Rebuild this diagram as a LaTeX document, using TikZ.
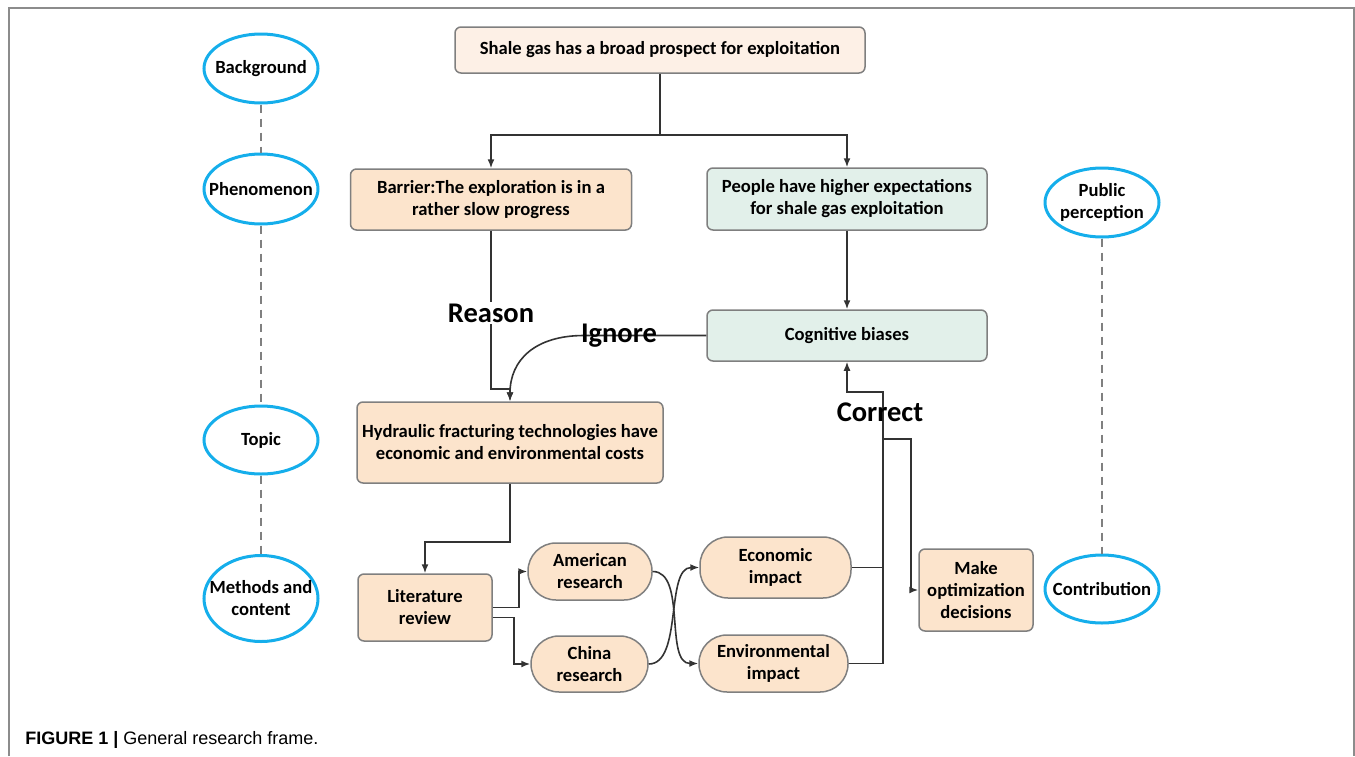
\documentclass[tikz,border=0pt]{standalone}
\usepackage{fontspec}
\setmainfont{Carlito}
\newfontfamily\capfont{Liberation Sans}
\usetikzlibrary{shapes.geometric}
\usetikzlibrary{arrows.meta}

\definecolor{peach}{HTML}{FCE4CC}
\definecolor{lightpeach}{HTML}{FDF0E6}
\definecolor{mint}{HTML}{E2F0EA}
\definecolor{skyline}{HTML}{15AEEB}
\definecolor{boxline}{HTML}{7F7F7F}
\definecolor{wire}{HTML}{333333}

\tikzset{
  box/.style={draw=boxline, line width=0.75pt, rounded corners=3pt, align=center,
    font=\bfseries\fontsize{9.3}{11}\selectfont, inner sep=2pt},
  pill/.style={box, rounded corners=14pt, fill=peach},
  oval/.style={ellipse, draw=skyline, line width=1.5pt, inner xsep=-8pt, inner ysep=-4pt,
    minimum width=57pt, align=center, font=\bfseries\fontsize{9.3}{11}\selectfont},
  link/.style={draw=wire, line width=0.8pt},
  arr/.style={link, -{Latex[length=4.5pt,width=3.5pt]}},
  tag/.style={font=\bfseries\fontsize{14.25}{16}\selectfont, inner sep=1pt},
  guide/.style={draw=gray, line width=0.6pt, dash pattern=on 4pt off 3pt},
  frame/.style={draw=gray!90, line width=0.75pt}
}

\begin{document}
\begin{tikzpicture}[x=0.5pt,y=-0.5pt]
  % Page size in pixels of the figure
  \useasboundingbox (0,0) rectangle (1355,756);
  \draw[frame] (9,756) -- (9,8) -- (1354,8) -- (1354,756);

  % Stages on the left and right
  \node[oval, minimum height=34.5pt] (bg) at (261,68.5) {Background};
  \node[oval, minimum height=35pt] (phen) at (261,189) {Phenomenon};
  \node[oval, minimum height=34pt] (topic) at (261,440) {Topic};
  \node[oval, minimum height=43pt] (meth) at (261,598.5) {Methods and\\content};
  \node[oval, minimum height=34.5pt] (pub) at (1102,202.5) {Public\\perception};
  \node[oval, minimum height=34pt] (contr) at (1102,589) {Contribution};

  \draw[guide] (bg) -- (phen);
  \draw[guide] (phen) -- (topic);
  \draw[guide] (topic) -- (meth);
  \draw[guide] (pub) -- (contr);

  % Main boxes
  \node[box, fill=lightpeach, minimum width=205pt, minimum height=23pt] (top) at (660,50) {Shale gas has a broad prospect for exploitation};
  \node[box, fill=peach, minimum width=140.5pt, minimum height=30.5pt] (barrier) at (491,199.5) {Barrier:The exploration is in a\\rather slow progress};
  \node[box, fill=mint, minimum width=140pt, minimum height=31pt] (people) at (847,199) {People have higher expectations\\for shale gas exploitation};
  \node[box, fill=mint, minimum width=140pt, minimum height=25.5pt] (cog) at (847,335.5) {Cognitive biases};
  \node[box, fill=peach, minimum width=153pt, minimum height=40.5pt] (hyd) at (510,442.5) {Hydraulic fracturing technologies have\\economic and environmental costs};
  \node[box, fill=peach, minimum width=67pt, minimum height=33.5pt] (lit) at (425,607.5) {Literature\\review};
  \node[pill, minimum width=62pt, minimum height=28.5pt] (amer) at (590,571.5) {American\\research};
  \node[pill, minimum width=58.5pt, minimum height=28pt] (china) at (589.5,664) {China\\research};
  \node[pill, minimum width=75.5pt, minimum height=30.5pt] (econ) at (775.5,567.5) {Economic\\impact};
  \node[pill, minimum width=74.5pt, minimum height=28.5pt] (env) at (773.5,663.5) {Environmental\\impact};
  \node[box, fill=peach, minimum width=57pt, minimum height=41pt] (make) at (976,590) {Make\\optimization\\decisions};

  % Top split
  \coordinate (split) at (660,135);
  \draw[link] (top.south) -- (split);
  \draw[arr] (split) -| (barrier.north);
  \draw[arr] (split) -| (people.north);
  \draw[arr] (people.south) -- (cog.north);

  % Reason
  \coordinate (rsn) at (491,389);
  \draw[arr] (barrier.south) -- (rsn) -| (hyd.north);
  \node[tag, fill=white] (reason) at (491,313) {Reason};

  % Ignore
  \coordinate (ign) at (584,335.5);
  \draw[arr] (cog.west) -- (ign) .. controls (535,335.5) and (510,360) .. (hyd.north);
  \node[tag] (ignore) at (619,336) {Ignore};

  % Literature and research
  \draw[arr] (hyd.south) -- ++(0,58) -| (lit.north);
  \draw[arr] (lit.east) -- ++(26,0) |- (amer.west);
  \draw[arr] ([yshift=-5pt]lit.east) -- ++(21,0) |- (china.west);
  \draw[arr] (amer.east) .. controls +(34,0) and +(-34,0) .. (env.west);
  \draw[arr] (china.east) .. controls +(34,0) and +(-34,0) .. (econ.west);

  % Correct
  \coordinate (cor) at (883,392);
  \coordinate (brk) at (883,439);
  \coordinate (drop) at (911,439);
  \draw[link] (econ.east) -- (econ.east -| cor);
  \draw[arr] (env.east) -| (cor) -| (cog.south);
  \draw[arr] (brk) -- (drop) |- (make.west);
  \node[tag] (correct) at (880,412) {Correct};

  % Caption
  \node[anchor=base west, inner sep=0pt, font=\capfont\fontsize{9}{11}\selectfont] (cap) at (25,744) {\textbf{FIGURE 1 |} General research frame.};
\end{tikzpicture}
\end{document}
